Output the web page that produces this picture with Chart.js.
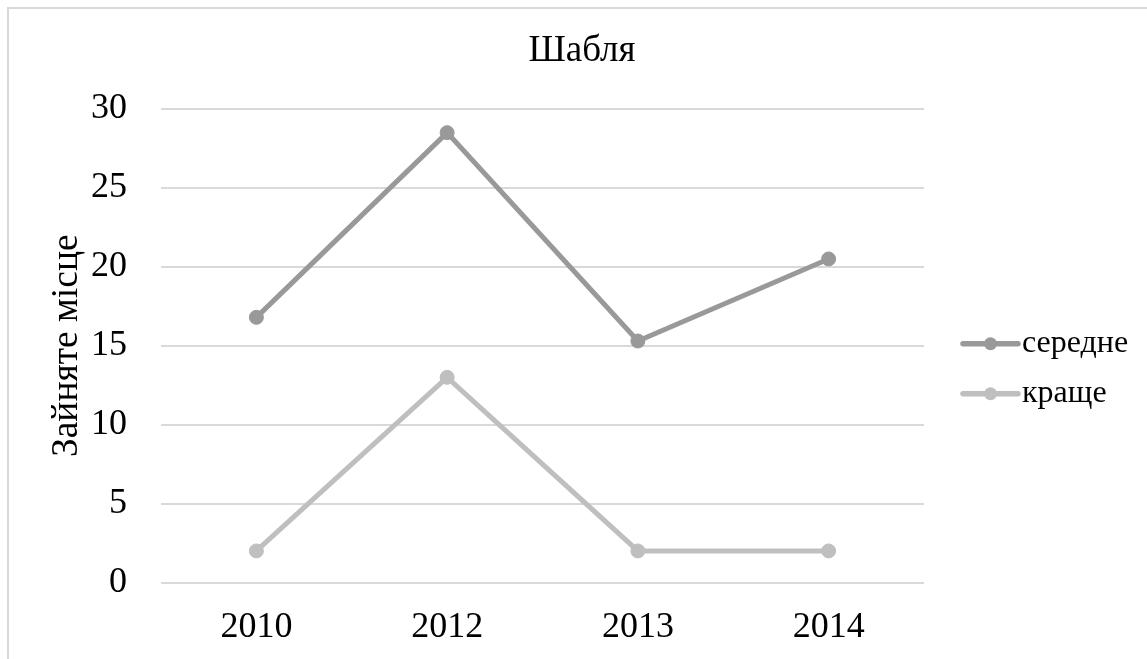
<!DOCTYPE html>
<html>
<head>
<meta charset="utf-8">
<title>Шабля</title>
<script src="https://cdn.jsdelivr.net/npm/chart.js@4"></script>
<style>
  html, body { margin: 0; padding: 0; background: #ffffff; overflow: hidden; }
  #wrap { position: relative; width: 1147px; height: 659px; }
  #frame { position: absolute; left: 7px; top: 7px; width: 2000px; height: 2000px;
           border: 2px solid #d9d9d9; box-sizing: border-box; }
  #chart { position: absolute; left: 0; top: 0; }
</style>
</head>
<body>
<div id="wrap">
  <div id="frame"></div>
  <canvas id="chart" width="1147" height="659"></canvas>
</div>
<script>
// Years on the horizontal axis
const categories = ['2010', '2012', '2013', '2014'];
// Place taken, average and best
const averagePlace = [16.8, 28.5, 15.3, 20.5];
const bestPlace = [2, 13, 2, 2];
const seriesNames = ['середне', 'краще'];
const yTicks = [0, 5, 10, 15, 20, 25, 30];

const FONT = "'Liberation Serif', 'Times New Roman', serif";
const colAvg = '#999999';
const colBest = '#bfbfbf';

// Legend drawn as a line with a marker, to the right of the plot
const lineLegend = {
  id: 'lineLegend',
  afterDraw(chart) {
    const { ctx, chartArea } = chart;
    const x0 = chartArea.right + 39;
    const len = 55;
    const midY = (chartArea.top + chartArea.bottom) / 2 - 2;
    ctx.save();
    ctx.font = '32px ' + FONT;
    ctx.textBaseline = 'middle';
    ctx.textAlign = 'left';
    chart.data.datasets.forEach((ds, i) => {
      const y = midY + i * 50;
      ctx.strokeStyle = ds.borderColor;
      ctx.lineWidth = 5.5;
      ctx.lineCap = 'round';
      ctx.beginPath();
      ctx.moveTo(x0, y);
      ctx.lineTo(x0 + len, y);
      ctx.stroke();
      ctx.fillStyle = ds.borderColor;
      ctx.beginPath();
      ctx.arc(x0 + len / 2, y, 6.5, 0, Math.PI * 2);
      ctx.fill();
      ctx.fillStyle = '#000000';
      ctx.fillText(ds.label, x0 + len + 4, y);
    });
    ctx.restore();
  }
};

new Chart(document.getElementById('chart'), {
  type: 'line',
  data: {
    labels: categories,
    datasets: [
      {
        label: seriesNames[0],
        data: averagePlace,
        borderColor: colAvg,
        backgroundColor: colAvg,
        borderWidth: 5,
        pointRadius: 7,
        pointBorderWidth: 1,
        pointBackgroundColor: colAvg,
        pointBorderColor: colAvg,
        tension: 0,
        fill: false
      },
      {
        label: seriesNames[1],
        data: bestPlace,
        borderColor: colBest,
        backgroundColor: colBest,
        borderWidth: 5,
        pointRadius: 7,
        pointBorderWidth: 1,
        pointBackgroundColor: colBest,
        pointBorderColor: colBest,
        tension: 0,
        fill: false
      }
    ]
  },
  options: {
    responsive: false,
    animation: false,
    layout: { padding: { left: 17, right: 0, top: 0, bottom: 0 } },
    plugins: {
      legend: { display: false },
      tooltip: { enabled: false },
      title: {
        display: true,
        text: 'Шабля',
        color: '#000000',
        font: { family: FONT, size: 37, weight: 'normal' },
        padding: { top: 29.5, bottom: 35.1 }
      }
    },
    scales: {
      x: {
        type: 'category',
        offset: true,
        grid: { display: false, drawTicks: false },
        border: { display: false },
        ticks: {
          color: '#000000',
          font: { family: FONT, size: 36 },
          padding: 23,
          maxRotation: 0
        },
        afterFit(s) { s.height = 76.5; }
      },
      y: {
        type: 'linear',
        position: 'left',
        min: 0,
        max: 30,
        grid: { color: '#d9d9d9', lineWidth: 2, drawTicks: false },
        border: { display: false },
        afterBuildTicks(s) { s.ticks = yTicks.map(v => ({ value: v })); },
        ticks: {
          color: '#000000',
          font: { family: FONT, size: 36 },
          padding: 34
        },
        title: {
          display: true,
          text: 'Зайняте місце',
          color: '#000000',
          font: { family: FONT, size: 37.5 },
          padding: { top: 28, bottom: 0 }
        },
        afterFit(s) { s.width = 144; }
      },
      yR: {
        type: 'linear',
        position: 'right',
        display: true,
        grid: { display: false, drawTicks: false },
        border: { display: false },
        ticks: { display: false },
        afterFit(s) { s.width = 223; }
      }
    }
  },
  plugins: [lineLegend]
});
</script>
</body>
</html>
